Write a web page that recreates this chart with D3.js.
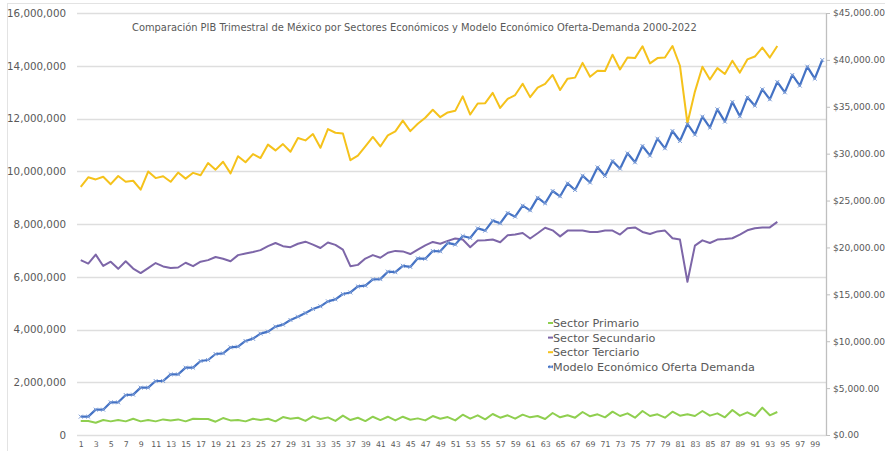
<!DOCTYPE html>
<html>
<head>
<meta charset="utf-8">
<script src="https://cdn.jsdelivr.net/npm/d3@7"></script>
<style>
  body { margin: 0; background: #fff; }
  text { font-family: "DejaVu Sans", sans-serif; fill: #595959; }
</style>
</head>
<body>
<script>
'use strict';

// categories 1..100 (quarters), labels shown every other one
const categories = d3.range(1, 101);
const tickLabels = categories.filter(d => d % 2 === 1);

const leftTicks = [0, 2000000, 4000000, 6000000, 8000000, 10000000, 12000000, 14000000, 16000000];
const rightTicks = [0, 5000, 10000, 15000, 20000, 25000, 30000, 35000, 40000, 45000];

// Sector Primario (millions pesos, left axis)
const primario = [529000, 529000, 466000, 567000, 517000, 567000, 517000, 617000, 517000, 567000,
  517000, 592000, 554000, 592000, 517000, 617000, 605000, 605000, 504000, 643000,
  554000, 567000, 517000, 617000, 567000, 617000, 517000, 680000, 617000, 655000,
  535000, 706000, 605000, 668000, 535000, 735000, 567000, 655000, 529000, 693000,
  567000, 693000, 554000, 693000, 580000, 630000, 554000, 718000, 617000, 680000,
  554000, 769000, 619000, 746000, 594000, 796000, 657000, 746000, 619000, 771000,
  670000, 720000, 607000, 834000, 670000, 746000, 657000, 872000, 708000, 784000,
  670000, 885000, 720000, 821000, 657000, 910000, 720000, 784000, 657000, 885000,
  733000, 784000, 720000, 910000, 733000, 821000, 670000, 948000, 733000, 859000,
  720000, 1036000, 746000, 872000];

// Sector Secundario
const secundario = [6630000, 6500000, 6840000, 6410000, 6570000, 6300000, 6590000, 6310000, 6140000, 6330000,
  6520000, 6390000, 6330000, 6350000, 6530000, 6400000, 6570000, 6630000, 6750000, 6680000,
  6590000, 6820000, 6880000, 6940000, 7010000, 7160000, 7280000, 7160000, 7120000, 7250000,
  7330000, 7220000, 7090000, 7300000, 7210000, 7030000, 6400000, 6450000, 6690000, 6820000,
  6720000, 6910000, 6980000, 6960000, 6860000, 7030000, 7190000, 7320000, 7250000, 7360000,
  7450000, 7410000, 7120000, 7370000, 7380000, 7410000, 7310000, 7570000, 7600000, 7660000,
  7450000, 7650000, 7860000, 7760000, 7530000, 7750000, 7750000, 7750000, 7700000, 7700000,
  7750000, 7750000, 7600000, 7840000, 7870000, 7700000, 7620000, 7720000, 7750000, 7460000,
  7410000, 5810000, 7180000, 7380000, 7280000, 7410000, 7430000, 7460000, 7600000, 7760000,
  7840000, 7870000, 7870000, 8080000];

// Sector Terciario
const terciario = [9410000, 9770000, 9690000, 9790000, 9510000, 9820000, 9600000, 9640000, 9300000, 9990000,
  9740000, 9810000, 9600000, 9950000, 9720000, 9940000, 9850000, 10310000, 10060000, 10360000,
  9920000, 10570000, 10340000, 10650000, 10500000, 11010000, 10790000, 11030000, 10740000, 11260000,
  11170000, 11410000, 10890000, 11600000, 11460000, 11430000, 10420000, 10590000, 10940000, 11300000,
  10940000, 11360000, 11510000, 11920000, 11520000, 11800000, 12030000, 12330000, 12050000, 12230000,
  12290000, 12840000, 12150000, 12570000, 12580000, 12970000, 12400000, 12740000, 12890000, 13320000,
  12810000, 13170000, 13310000, 13650000, 13080000, 13510000, 13550000, 14110000, 13580000, 13810000,
  13800000, 14420000, 13860000, 14310000, 14290000, 14740000, 14090000, 14290000, 14310000, 14750000,
  14000000, 11820000, 13020000, 13960000, 13480000, 13910000, 13690000, 14190000, 13740000, 14240000,
  14350000, 14690000, 14310000, 14750000];

// Modelo Económico Oferta Demanda (dollars, right axis)
const modelo = [1955, 1955, 2701, 2701, 3484, 3484, 4266, 4301, 5048, 5048,
  5759, 5759, 6470, 6470, 7180, 7180, 7891, 7998, 8638, 8709,
  9349, 9420, 10024, 10273, 10806, 11019, 11552, 11766, 12264, 12619,
  13010, 13437, 13721, 14254, 14468, 15036, 15200, 15840, 15920, 16600,
  16620, 17418, 17360, 18040, 17920, 18840, 18790, 19622, 19586, 20480,
  20300, 21221, 21008, 22039, 21790, 22857, 22572, 23674, 23283, 24456,
  23958, 25309, 24705, 26020, 25451, 26838, 26127, 27655, 26920, 28544,
  27620, 29219, 28402, 30037, 29077, 30819, 29788, 31601, 30570, 32419,
  31352, 33165, 32027, 33947, 32774, 34729, 33414, 35511, 33983, 36009,
  35120, 36862, 35796, 37644, 36542, 38390, 37253, 39279, 37999, 39990];

const seriesNames = ['Sector Primario', 'Sector Secundario', 'Sector Terciario', 'Modelo Económico Oferta Demanda'];
const colors = {
  'Sector Primario': '#8fcf4f',
  'Sector Secundario': '#7d66a8',
  'Sector Terciario': '#f5c21b',
  'Modelo Económico Oferta Demanda': '#4472c4'
};

const width = 885, height = 451;
const svg = d3.select('body').append('svg')
  .attr('width', width)
  .attr('height', height);

// chart area border
svg.append('rect')
  .attr('x', 7.5).attr('y', 3.5)
  .attr('width', 900).attr('height', 470)
  .attr('fill', 'none')
  .attr('stroke', '#e3e3e3');

const x = d3.scalePoint().domain(categories).range([77, 826]).padding(0.5);
const yLeft = d3.scaleLinear().domain([0, 16000000]).range([435, 13]);
const yRight = d3.scaleLinear().domain([0, 45000]).range([435, 13]);

// gridlines
svg.append('g').selectAll('line')
  .data(leftTicks)
  .enter().append('line')
  .attr('x1', 77).attr('x2', 826)
  .attr('y1', d => Math.round(yLeft(d)) + 0.5)
  .attr('y2', d => Math.round(yLeft(d)) + 0.5)
  .attr('stroke', '#dedede')
  .attr('stroke-width', 1.3);

// left axis
const leftAxis = svg.append('g')
  .attr('transform', 'translate(77,0)')
  .call(d3.axisLeft(yLeft).tickValues(leftTicks).tickSize(0).tickPadding(11)
    .tickFormat(d3.format(',')));
leftAxis.select('.domain').remove();
leftAxis.selectAll('text').style('font-size', '10.3px').attr('fill', '#595959');

// right axis
const rightAxis = svg.append('g')
  .attr('transform', 'translate(826,0)')
  .call(d3.axisRight(yRight).tickValues(rightTicks).tickSize(4).tickSizeOuter(0).tickPadding(3)
    .tickFormat(d => '$' + d3.format(',.2f')(d)));
rightAxis.select('.domain').attr('stroke', '#bfbfbf').attr('stroke-width', 1.3);
rightAxis.selectAll('.tick line').attr('stroke', '#bfbfbf');
rightAxis.selectAll('text').style('font-size', '9.1px').attr('fill', '#595959');

// x axis labels
const bottomAxis = svg.append('g')
  .attr('transform', 'translate(0,441)')
  .call(d3.axisBottom(x).tickValues(tickLabels).tickSize(0).tickPadding(0));
bottomAxis.select('.domain').remove();
bottomAxis.selectAll('text').style('font-size', '7.8px').attr('fill', '#595959');

// lines
const lineLeft = d3.line().x((d, i) => x(categories[i])).y(d => yLeft(d));
const lineRight = d3.line().x((d, i) => x(categories[i])).y(d => yRight(d));

const leftSeries = [['Sector Primario', primario], ['Sector Secundario', secundario], ['Sector Terciario', terciario]];
leftSeries.forEach(([name, vals]) => {
  svg.append('path')
    .datum(vals)
    .attr('fill', 'none')
    .attr('stroke', colors[name])
    .attr('stroke-width', 2)
    .attr('stroke-linejoin', 'round')
    .attr('d', lineLeft);
});

const blue = colors['Modelo Económico Oferta Demanda'];
svg.append('path')
  .datum(modelo)
  .attr('fill', 'none')
  .attr('stroke', blue)
  .attr('stroke-width', 2.2)
  .attr('stroke-linejoin', 'round')
  .attr('d', lineRight);

// x markers on the blue line
svg.append('g').selectAll('path')
  .data(modelo)
  .enter().append('path')
  .attr('transform', (d, i) => `translate(${x(categories[i])},${yRight(d)})`)
  .attr('d', d3.symbol(d3.symbolX, 12))
  .attr('stroke', '#7f9fd8')
  .attr('stroke-width', 1)
  .attr('fill', 'none');

// legend
const legend = svg.append('g').attr('transform', 'translate(548,323)');
seriesNames.forEach((name, i) => {
  const g = legend.append('g').attr('transform', `translate(0,${i * 14.6})`);
  g.append('line')
    .attr('x1', 0).attr('x2', 5)
    .attr('stroke', colors[name])
    .attr('stroke-width', 2);
  if (i === 3) {
    g.append('path')
      .attr('transform', 'translate(3,0)')
      .attr('d', d3.symbol(d3.symbolX, 8))
      .attr('stroke', '#7f9fd8')
      .attr('fill', 'none');
  }
  g.append('text')
    .attr('x', 5)
    .attr('dy', '0.36em')
    .style('font-size', '11.2px')
    .text(name);
});

// title, fitted to the width it has in the picture
const title = svg.append('text')
  .attr('x', 132)
  .attr('y', 31)
  .style('font-size', '10px')
  .text('Comparación PIB Trimestral de México por Sectores Económicos y Modelo Económico Oferta-Demanda 2000-2022');
const tw = title.node().getComputedTextLength();
title.style('font-size', (10 * 565 / tw) + 'px');
</script>
</body>
</html>
